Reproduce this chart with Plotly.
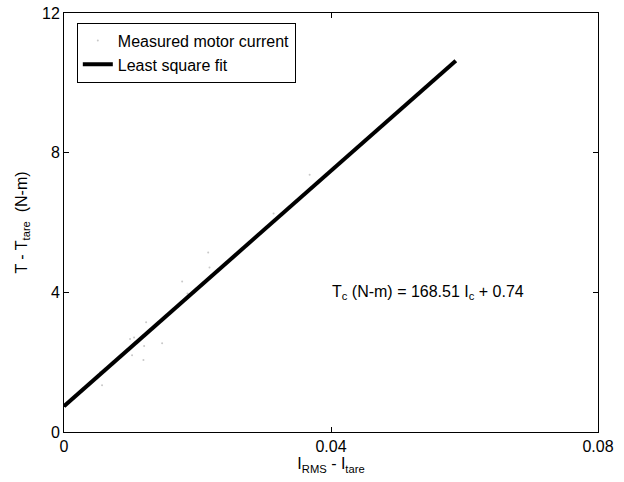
import plotly.graph_objects as go

# Measured points (faint in original)
meas_x = [0.0054, 0.0057, 0.0099, 0.0102, 0.0105, 0.0119, 0.0120, 0.0123, 0.0147,
          0.0177, 0.0185, 0.0216, 0.0218, 0.0314, 0.0368]
meas_y = [1.71, 1.34, 2.66, 2.20, 2.71, 2.06, 2.46, 3.14, 2.54,
          4.31, 3.97, 5.14, 4.71, 6.26, 7.37]

# Least square fit line endpoints
fit_x = [0.0, 0.0587]
slope = 168.51
intercept = 0.74
fit_y = [slope * v + intercept for v in fit_x]

x_ticks = [0, 0.04, 0.08]
x_tick_text = ["0", "0.04", "0.08"]
y_ticks = [0, 4, 8, 12]

FONT = "Liberation Sans, Arial, Helvetica, sans-serif"

fig = go.Figure()
fig.add_trace(go.Scatter(x=meas_x, y=meas_y, mode="markers", name="Measured motor current",
                         marker=dict(size=2, color="#c8c8c8")))
fig.add_trace(go.Scatter(x=fit_x, y=fit_y, mode="lines", name="Least square fit",
                         line=dict(color="black", width=4)))

fig.add_annotation(x=0.0399, y=4, xref="x", yref="y", showarrow=False, xanchor="left",
                   text="T<sub>c</sub> (N-m) = 168.51 I<sub>c</sub> + 0.74",
                   font=dict(size=16, color="black", family=FONT))

fig.update_layout(
    width=624, height=482,
    margin=dict(l=64, r=26, t=13, b=50),
    paper_bgcolor="white", plot_bgcolor="white",
    font=dict(family=FONT, size=16, color="black"),
    showlegend=True,
    legend=dict(x=0.024, y=0.977, xanchor="left", yanchor="top",
                bordercolor="black", borderwidth=1, bgcolor="white",
                font=dict(size=16), tracegroupgap=0, itemwidth=30),
    xaxis=dict(range=[0, 0.08], tickvals=x_ticks, ticktext=x_tick_text,
               ticks="inside", ticklen=5, tickcolor="black", mirror="ticks",
               showline=True, linecolor="black", linewidth=1, showgrid=False,
               zeroline=False, automargin=False,
               tickfont=dict(size=16),
               title=dict(text="I<sub>RMS</sub> - I<sub>tare</sub>", standoff=0,
                          font=dict(size=16))),
    yaxis=dict(range=[0, 12], tickvals=y_ticks,
               ticks="inside", ticklen=5, tickcolor="black", mirror="ticks",
               showline=True, linecolor="black", linewidth=1, showgrid=False,
               zeroline=False, automargin=False,
               tickfont=dict(size=16),
               title=dict(text="T - T<sub>tare</sub>  (N-m)", standoff=10,
                          font=dict(size=16))),
)

fig.write_html("out.html", config={"displayModeBar": False},
               post_script="document.body.style.margin='0';document.body.style.overflow='hidden';")
